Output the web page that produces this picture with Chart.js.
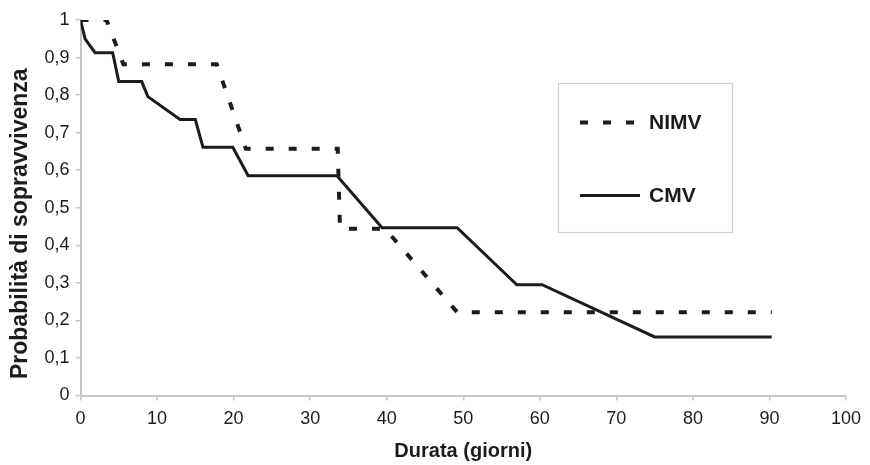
<!DOCTYPE html>
<html>
<head>
<meta charset="utf-8">
<script src="https://cdn.jsdelivr.net/npm/chart.js@4/dist/chart.umd.min.js"></script>
<style>
  html, body { margin: 0; padding: 0; background: #ffffff; }
  #wrap { width: 870px; height: 465px; position: relative; }
</style>
</head>
<body>
<div id="wrap"><canvas id="c" width="870" height="465"></canvas></div>
<script>
// ---- Data ----
const seriesLabels = ["NIMV", "CMV"];

const nimvDays = [0, 3.4, 5.6, 17.8, 21.6, 33.6, 33.9, 39.8, 49.2, 90.3];
const nimvProb = [1, 1, 0.882, 0.882, 0.657, 0.657, 0.444, 0.444, 0.222, 0.222];

const cmvDays = [0, 0.6, 1.9, 4.2, 5.0, 8.0, 8.8, 13.0, 15.0, 16.0, 19.9, 21.9, 33.5, 39.4, 49.2, 57.0, 60.3, 75.0, 90.3];
const cmvProb = [1, 0.95, 0.913, 0.913, 0.836, 0.836, 0.796, 0.735, 0.735, 0.661, 0.661, 0.585, 0.585, 0.447, 0.447, 0.295, 0.295, 0.156, 0.156];

const xTicks = [0, 10, 20, 30, 40, 50, 60, 70, 80, 90, 100];
const yTicks = [0, 0.1, 0.2, 0.3, 0.4, 0.5, 0.6, 0.7, 0.8, 0.9, 1];
const yTickLabels = ["0", "0,1", "0,2", "0,3", "0,4", "0,5", "0,6", "0,7", "0,8", "0,9", "1"];

const xTitle = "Durata (giorni)";
const yTitle = "Probabilità di sopravvivenza";

const toPoints = (xs, ys) => xs.map((x, i) => ({ x: x, y: ys[i] }));

const FONT = "'Liberation Sans', Arial, Helvetica, sans-serif";
const INK = "#1c1c1c";
const AXIS = "#c6c6c6";

// Custom legend drawn in a box inside the plot, like the reference
const boxLegend = {
  id: "boxLegend",
  afterDraw(chart) {
    const ctx = chart.ctx;
    const x0 = 558, y0 = 83, x1 = 732, y1 = 232;
    ctx.save();
    ctx.strokeStyle = "#d0d0d0";
    ctx.lineWidth = 1.2;
    ctx.strokeRect(x0 + 0.5, y0 + 0.5, x1 - x0, y1 - y0);
    const rows = [122.5, 195.5];
    chart.data.datasets.forEach((ds, i) => {
      const y = rows[i];
      ctx.beginPath();
      ctx.strokeStyle = ds.borderColor;
      ctx.lineWidth = ds.borderWidth;
      ctx.lineCap = "butt";
      ctx.setLineDash(ds.borderDash || []);
      ctx.moveTo(580, y);
      ctx.lineTo(640, y);
      ctx.stroke();
      ctx.setLineDash([]);
      ctx.fillStyle = INK;
      ctx.font = "bold 21px " + FONT;
      ctx.textBaseline = "middle";
      ctx.textAlign = "left";
      ctx.fillText(ds.label, 649, y + 1);
    });
    ctx.restore();
  }
};

new Chart(document.getElementById("c"), {
  type: "line",
  data: {
    datasets: [
      {
        label: seriesLabels[0],
        data: toPoints(nimvDays, nimvProb),
        borderColor: INK,
        borderWidth: 4,
        borderDash: [8, 15],
        borderCapStyle: "butt",
        pointRadius: 0,
        tension: 0,
        fill: false
      },
      {
        label: seriesLabels[1],
        data: toPoints(cmvDays, cmvProb),
        borderColor: INK,
        borderWidth: 3,
        pointRadius: 0,
        tension: 0,
        fill: false
      }
    ]
  },
  options: {
    responsive: false,
    animation: false,
    layout: { padding: { top: 20, right: 24, left: 0, bottom: 0 } },
    plugins: {
      legend: { display: false },
      tooltip: { enabled: false }
    },
    scales: {
      x: {
        type: "linear",
        min: 0,
        max: 100,
        afterBuildTicks(scale) { scale.ticks = xTicks.map(v => ({ value: v })); },
        afterFit(scale) { scale.height = 69.5; },
        grid: {
          display: true,
          drawOnChartArea: false,
          drawTicks: true,
          tickLength: 5,
          color: AXIS,
          lineWidth: 1.5
        },
        border: { display: true, color: AXIS, width: 2 },
        ticks: {
          color: INK,
          font: { family: FONT, size: 18 },
          padding: 8,
          maxRotation: 0,
          callback: v => String(v)
        },
        title: {
          display: true,
          text: xTitle,
          color: INK,
          font: { family: FONT, size: 20, weight: "bold" },
          padding: { top: 6, bottom: 2 }
        }
      },
      y: {
        type: "linear",
        min: 0,
        max: 1,
        afterBuildTicks(scale) { scale.ticks = yTicks.map(v => ({ value: v })); },
        afterFit(scale) { scale.width = 80.5; },
        grid: {
          display: true,
          drawOnChartArea: false,
          drawTicks: true,
          tickLength: 5,
          color: AXIS,
          lineWidth: 1.5
        },
        border: { display: true, color: AXIS, width: 2 },
        ticks: {
          color: INK,
          font: { family: FONT, size: 18 },
          padding: 6,
          callback: function (v) {
            const i = yTicks.findIndex(t => Math.abs(t - v) < 1e-9);
            return i >= 0 ? yTickLabels[i] : "";
          }
        },
        title: {
          display: true,
          // trailing no-break spaces nudge the rotated title down, as in the reference
          text: yTitle + "\u00A0\u00A0\u00A0\u00A0\u00A0",
          color: INK,
          font: { family: FONT, size: 23, weight: "bold" },
          padding: { top: 7, bottom: 0 }
        }
      }
    }
  },
  plugins: [boxLegend]
});
</script>
</body>
</html>
